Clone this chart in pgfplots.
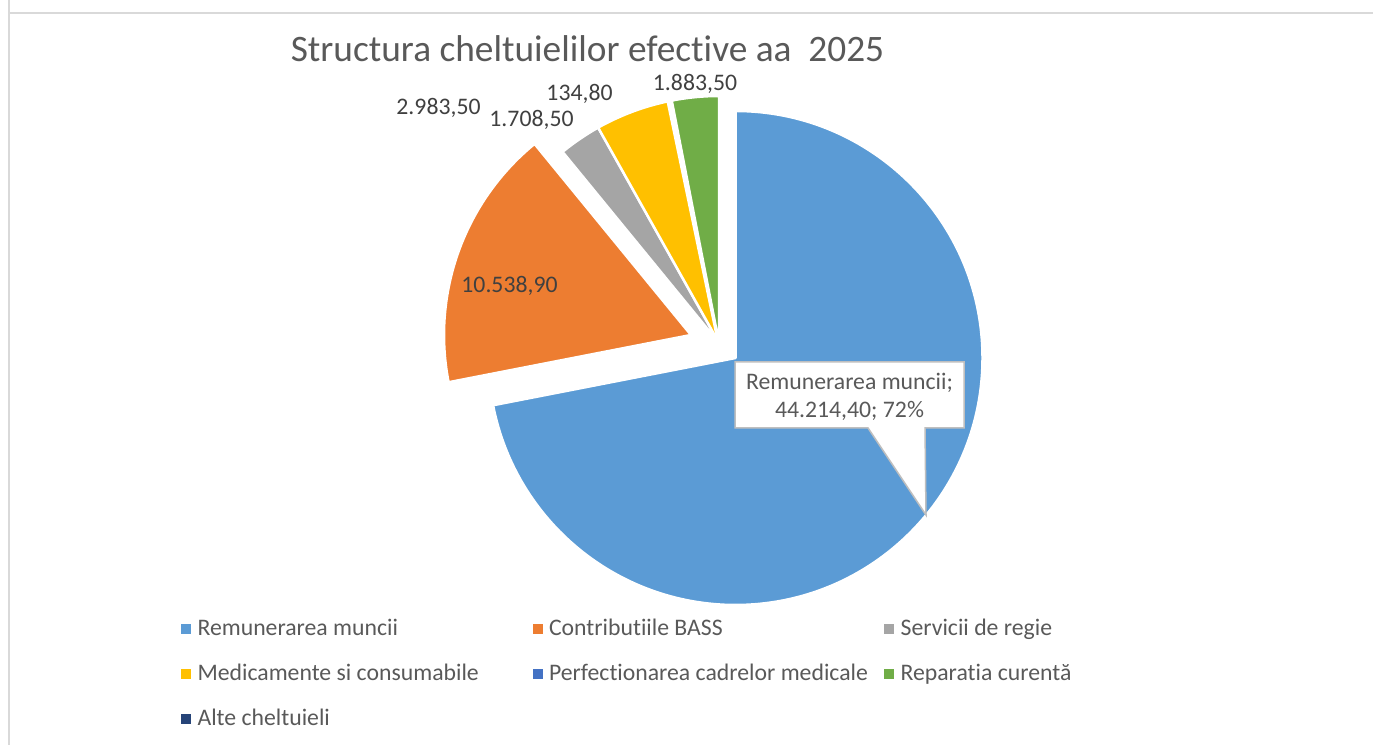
\documentclass[border=0pt]{standalone}
\usepackage{pgfplots}
\pgfplotsset{compat=1.18}
\usepackage{fontspec}
\setmainfont{Carlito}[Ligatures=NoCommon]
\newdimen\u \u=0.75pt
\definecolor{cA}{HTML}{5B9BD5}
\definecolor{cB}{HTML}{ED7D31}
\definecolor{cC}{HTML}{A5A5A5}
\definecolor{cD}{HTML}{FFC000}
\definecolor{cE}{HTML}{4472C4}
\definecolor{cF}{HTML}{70AD47}
\definecolor{cG}{HTML}{264478}
\definecolor{txtA}{HTML}{595959}
\definecolor{txtB}{HTML}{404040}
\definecolor{brd}{HTML}{D9D9D9}
\definecolor{callbrd}{HTML}{BFBFBF}
% values
\def\vA{44214.40}% Remunerarea muncii
\def\vB{10538.90}% Contributiile BASS
\def\vC{1708.50}% Servicii de regie
\def\vD{2983.50}% Medicamente si consumabile
\def\vE{134.80}% Perfectionarea cadrelor medicale
\def\vF{1883.50}% Reparatia curenta
\def\vG{0}% Alte cheltuieli
\edef\T{\fpeval{\vA+\vB+\vC+\vD+\vE+\vF+\vG}}
\edef\aA{90}
\edef\aB{\fpeval{\aA-360*\vA/\T}}
\edef\aC{\fpeval{\aB-360*\vB/\T}}
\edef\aD{\fpeval{\aC-360*\vC/\T}}
\edef\aE{\fpeval{\aD-360*\vD/\T}}
\edef\aF{\fpeval{\aE-360*\vE/\T}}
\edef\aG{\fpeval{\aF-360*\vF/\T}}
\newcommand\slice[6][2.5]{%
  \fill[#2, draw=white, line width=#1\u, line join=round] (axis cs:#3,#4) -- ++(#5:247\u) arc[start angle=#5, end angle=#6, radius=247\u] -- cycle;}
\begin{document}
\begin{tikzpicture}
\begin{axis}[
  at={(0,0)}, anchor=origin,
  x=0.75pt, y=0.75pt,
  xmin=0, xmax=1373, ymin=0, ymax=745,
  hide axis, clip=false,
  legend columns=3,
  legend cell align=left,
  legend style={draw=none, fill=none, inner sep=0pt, outer sep=0pt,
    at={(axis description cs:0.13183,0.16644)}, anchor=north west,
    font=\fontsize{17.8}{21}\selectfont, text=txtA,
    column sep=0pt, row sep=30\u,
    nodes={inner sep=0pt, outer sep=0pt, text height=15\u, text depth=0pt}},
  legend image code/.code={\fill[#1] (0,-4.5\u) rectangle (9\u,4.5\u); \path (16\u,0);},
]
% chart border
\draw[brd, line width=1.5\u] (9,745) -- (9,732) -- (1373,732);
\draw[brd, line width=1.5\u] (9,0) -- (9,732);
% slices
\slice{cA}{735.5}{387}{\aA}{\aB}
\slice{cB}{691}{410}{\aB}{\aC}
\slice{cC}{719}{402}{\aC}{\aD}
\slice{cD}{719}{402}{\aD}{\aE}
\slice[4]{cE}{719}{402}{\aE}{\aF}
\slice{cF}{719}{402}{\aF}{\aG}
% legend
\addlegendimage{cA}\addlegendentry{\makebox[335\u][l]{Remunerarea muncii}}
\addlegendimage{cB}\addlegendentry{\makebox[335\u][l]{Contributiile BASS}}
\addlegendimage{cC}\addlegendentry{\makebox[335\u][l]{Servicii de regie}}
\addlegendimage{cD}\addlegendentry{\makebox[335\u][l]{Medicamente si consumabile}}
\addlegendimage{cE}\addlegendentry{\makebox[335\u][l]{Perfectionarea cadrelor medicale}}
\addlegendimage{cF}\addlegendentry{\makebox[335\u][l]{Reparatia curentă}}
\addlegendimage{cG}\addlegendentry{\makebox[335\u][l]{Alte cheltuieli}}
% title
\node[anchor=base, text=txtA, font=\fontsize{28}{33}\selectfont] at (axis cs:587.5,683) {Structura cheltuielilor efective aa~~2025};
% data labels
\node[anchor=base, text=txtB, font=\fontsize{17.8}{21}\selectfont] at (axis cs:438.5,630) {2.983,50};
\node[anchor=base, text=txtB, font=\fontsize{17.8}{21}\selectfont] at (axis cs:531.5,618) {1.708,50};
\node[anchor=base, text=txtB, font=\fontsize{17.8}{21}\selectfont] at (axis cs:579.5,644) {134,80};
\node[anchor=base, text=txtB, font=\fontsize{17.8}{21}\selectfont] at (axis cs:695,654) {1.883,50};
\node[anchor=base, text=txtB, font=\fontsize{17.8}{21}\selectfont] at (axis cs:509.5,452) {10.538,90};
% callout
\filldraw[fill=white, draw=callbrd, line width=1.5\u] (axis cs:735,383) -- (axis cs:964,383) -- (axis cs:964,317) -- (axis cs:925,317) -- (axis cs:926,230) -- (axis cs:868,317) -- (axis cs:735,317) -- cycle;
\node[anchor=base, text=txtA, font=\fontsize{17.8}{21}\selectfont] at (axis cs:849.5,355) {Remunerarea muncii;};
\node[anchor=base, text=txtA, font=\fontsize{17.8}{21}\selectfont] at (axis cs:849.5,327) {44.214,40; 72\%};
\end{axis}
\pgfresetboundingbox
\useasboundingbox (0,0) rectangle (1029.75pt,558.75pt);
\end{tikzpicture}
\end{document}
